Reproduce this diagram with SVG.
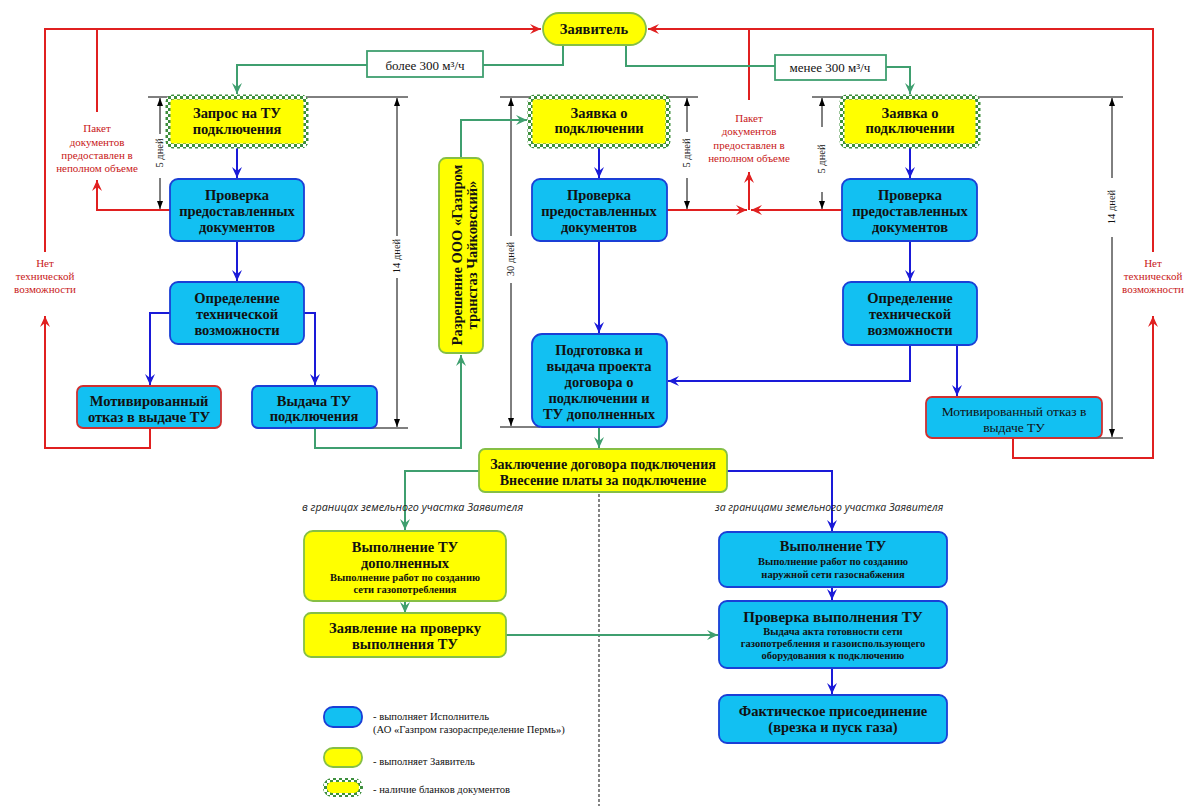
<svg xmlns="http://www.w3.org/2000/svg" width="1200" height="806" viewBox="0 0 1200 806">
<defs>
<pattern id="chk" width="6" height="6" patternUnits="userSpaceOnUse">
<rect width="6" height="6" fill="#ffffff"/>
<rect width="3" height="3" fill="#3d8f3d"/>
<rect x="3" y="3" width="3" height="3" fill="#3d8f3d"/>
</pattern>
<marker id="ab" markerWidth="12" markerHeight="12" refX="11" refY="6" orient="auto" markerUnits="userSpaceOnUse"><path d="M0,1 L11,6 L0,11 L4,6 z" fill="#1a1ad8"/></marker>
<marker id="ag" markerWidth="12" markerHeight="12" refX="11" refY="6" orient="auto" markerUnits="userSpaceOnUse"><path d="M0,1 L11,6 L0,11 L4,6 z" fill="#3f9f6f"/></marker>
<marker id="ar" markerWidth="12" markerHeight="12" refX="11" refY="6" orient="auto" markerUnits="userSpaceOnUse"><path d="M0,1 L11,6 L0,11 L4,6 z" fill="#e02020"/></marker>
<marker id="ak" markerWidth="9" markerHeight="8" refX="8" refY="4" orient="auto-start-reverse" markerUnits="userSpaceOnUse"><path d="M0,1 L8,4 L0,7 z" fill="#000"/></marker>
</defs>
<style>
.b{fill:#12c0f2;stroke:#1a3fd6;stroke-width:1.8}
.br{fill:#12c0f2;stroke:#d03030;stroke-width:1.8}
.y{fill:#ffff00;stroke:#86bf45;stroke-width:1.8}
.yc{fill:#ffff00;stroke:url(#chk);stroke-width:5}
.t{font-family:"Liberation Serif","Times New Roman",serif;font-weight:bold;font-size:14.5px;fill:#111;text-anchor:middle}
.ts{font-family:"Liberation Serif","Times New Roman",serif;font-weight:bold;font-size:10.5px;fill:#111;text-anchor:middle}
.tn{font-family:"Liberation Serif","Times New Roman",serif;font-size:13.5px;fill:#111;text-anchor:middle}
.rl{font-family:"Liberation Serif","Times New Roman",serif;font-size:11px;fill:#c81818;text-anchor:middle}
.dim{font-family:"Liberation Serif","Times New Roman",serif;font-size:10.5px;fill:#111;text-anchor:middle}
.lg{font-family:"Liberation Serif","Times New Roman",serif;font-size:10.6px;fill:#111}
.it{font-family:"Open Sans","DejaVu Sans",sans-serif;font-style:italic;font-size:10.8px;fill:#222}
.cr{fill:none;stroke:#e02020;stroke-width:2}
.cg{fill:none;stroke:#3f9f6f;stroke-width:2}
.cb{fill:none;stroke:#1a1ad8;stroke-width:2}
.dk{fill:none;stroke:#000;stroke-width:1}
</style>
<rect width="1200" height="806" fill="#ffffff"/>

<g id="dimensions">
<path class="dk" d="M148,97 H408 M365,428 H408 M500,97 H698 M500,427 H540 M812,97 H1123 M1090,438 H1123"/>
<path class="dk" d="M160,134 V98" marker-end="url(#ak)"/><path class="dk" d="M160,178 V209" marker-end="url(#ak)"/>
<text class="dim" transform="translate(163,153) rotate(-90)">5 дней</text>
<path class="dk" d="M397,236 V98" marker-end="url(#ak)"/><path class="dk" d="M397,278 V427" marker-end="url(#ak)"/>
<text class="dim" transform="translate(400,256) rotate(-90)">14 дней</text>
<path class="dk" d="M511,236 V98" marker-end="url(#ak)"/><path class="dk" d="M511,283 V426" marker-end="url(#ak)"/>
<text class="dim" transform="translate(514,259) rotate(-90)">30 дней</text>
<path class="dk" d="M687,132 V98" marker-end="url(#ak)"/><path class="dk" d="M687,178 V209" marker-end="url(#ak)"/>
<text class="dim" transform="translate(690,153) rotate(-90)">5 дней</text>
<path class="dk" d="M822,127 V98" marker-end="url(#ak)"/><path class="dk" d="M822,192 V209" marker-end="url(#ak)"/>
<text class="dim" transform="translate(825,159) rotate(-90)">5 дней</text>
<path class="dk" d="M1112,178 V98" marker-end="url(#ak)"/><path class="dk" d="M1112,237 V437" marker-end="url(#ak)"/>
<text class="dim" transform="translate(1115,207) rotate(-90)">14 дней</text>
<path d="M599,494 V806" fill="none" stroke="#333" stroke-width="1.2" stroke-dasharray="3,2"/>
</g>

<g id="connectors">
<path class="cr" d="M45,252 V29 H541" marker-end="url(#ar)"/>
<path class="cr" d="M97,29 V112"/>
<path class="cr" d="M170,210 H97 V180" marker-end="url(#ar)"/>
<path class="cr" d="M150,428 V448 H45 V316" marker-end="url(#ar)"/>
<path class="cr" d="M1153,252 V29 H648" marker-end="url(#ar)"/>
<path class="cr" d="M749,29 V100"/>
<path class="cr" d="M667,210 H747" marker-end="url(#ar)"/>
<path class="cr" d="M842,210 H751" marker-end="url(#ar)"/>
<path class="cr" d="M749,210 V172" marker-end="url(#ar)"/>
<path class="cr" d="M1013,438 V458 H1153 V316" marker-end="url(#ar)"/>

<path class="cg" d="M563,45 V65 H483"/>
<path class="cg" d="M367,65 H237 V94" marker-end="url(#ag)"/>
<path class="cg" d="M626,45 V66 H775"/>
<path class="cg" d="M886,67 H910 V94" marker-end="url(#ag)"/>
<path class="cg" d="M315,428 V448 H461 V355" marker-end="url(#ag)"/>
<path class="cg" d="M461,158 V120 H527" marker-end="url(#ag)"/>
<path class="cg" d="M599,427 V448" marker-end="url(#ag)"/>
<path class="cg" d="M479,471 H405 V530" marker-end="url(#ag)"/>
<path class="cg" d="M405,601 V613" marker-end="url(#ag)"/>
<path class="cg" d="M506,635 H718" marker-end="url(#ag)"/>

<path class="cb" d="M237,148 V178" marker-end="url(#ab)"/>
<path class="cb" d="M237,241 V281" marker-end="url(#ab)"/>
<path class="cb" d="M170,313 H150 V385" marker-end="url(#ab)"/>
<path class="cb" d="M304,313 H315 V385" marker-end="url(#ab)"/>
<path class="cb" d="M599,148 V178" marker-end="url(#ab)"/>
<path class="cb" d="M599,241 V333" marker-end="url(#ab)"/>
<path class="cb" d="M910,148 V178" marker-end="url(#ab)"/>
<path class="cb" d="M910,241 V281" marker-end="url(#ab)"/>
<path class="cb" d="M910,345 V381 H668" marker-end="url(#ab)"/>
<path class="cb" d="M957,345 V396" marker-end="url(#ab)"/>
<path class="cb" d="M727,471 H832 V531" marker-end="url(#ab)"/>
<path class="cb" d="M832,587 V600" marker-end="url(#ab)"/>
<path class="cb" d="M832,668 V694" marker-end="url(#ab)"/>
</g>

<g id="labels">
<text class="rl"><tspan x="97" y="132">Пакет</tspan><tspan x="97" y="146">документов</tspan><tspan x="97" y="159">предоставлен в</tspan><tspan x="97" y="172">неполном объеме</tspan></text>
<text class="rl"><tspan x="749" y="122">Пакет</tspan><tspan x="749" y="135">документов</tspan><tspan x="749" y="149">предоставлен в</tspan><tspan x="749" y="162">неполном объеме</tspan></text>
<text class="rl"><tspan x="45" y="267">Нет</tspan><tspan x="45" y="280">технической</tspan><tspan x="45" y="293">возможности</tspan></text>
<text class="rl"><tspan x="1153" y="267">Нет</tspan><tspan x="1153" y="280">технической</tspan><tspan x="1153" y="293">возможности</tspan></text>
<rect x="367" y="51" width="116" height="26" fill="#fff" stroke="#3f9f6f" stroke-width="1.8"/>
<text class="tn" x="425" y="70" style="font-size:13px">более 300 м³/ч</text>
<rect x="775" y="55" width="111" height="25" fill="#fff" stroke="#3f9f6f" stroke-width="1.8"/>
<text class="tn" x="830" y="72" style="font-size:13px">менее 300 м³/ч</text>
<text class="it" x="302" y="511">в границах земельного участка Заявителя</text>
<text class="it" x="715" y="511" style="font-size:10.5px">за границами земельного участка Заявителя</text>
</g>

<g id="n-zayavitel"><rect class="y" x="543" y="13" width="103" height="32" rx="16"/><text class="t" x="594" y="34">Заявитель</text></g>

<g id="n-zapros"><rect class="yc" x="168" y="97" width="138" height="49" rx="5"/><text class="t"><tspan x="237" y="118">Запрос на ТУ</tspan><tspan x="237" y="134">подключения</tspan></text></g>
<g id="n-prov1"><rect class="b" x="170" y="179" width="134" height="62" rx="8"/><text class="t"><tspan x="237" y="200">Проверка</tspan><tspan x="237" y="216">предоставленных</tspan><tspan x="237" y="232">документов</tspan></text></g>
<g id="n-opr1"><rect class="b" x="170" y="282" width="134" height="62" rx="8"/><text class="t"><tspan x="237" y="303">Определение</tspan><tspan x="237" y="319">технической</tspan><tspan x="237" y="335">возможности</tspan></text></g>
<g id="n-otkaz1"><rect class="br" x="77" y="386" width="144" height="42" rx="6"/><text class="t"><tspan x="149" y="406">Мотивированный</tspan><tspan x="149" y="422">отказ в выдаче ТУ</tspan></text></g>
<g id="n-vydacha"><rect class="b" x="252" y="386" width="125" height="42" rx="6"/><text class="t"><tspan x="314" y="406">Выдача ТУ</tspan><tspan x="314" y="421">подключения</tspan></text></g>

<g id="n-razresh"><rect class="y" x="439" y="158" width="44" height="195" rx="7"/><text class="t" transform="translate(461,255) rotate(-90)"><tspan x="0" y="1">Разрешение ООО «Газпром</tspan><tspan x="0" y="16">трансгаз Чайковский»</tspan></text></g>

<g id="n-zayavka2"><rect class="yc" x="530" y="97" width="138" height="49" rx="5"/><text class="t"><tspan x="599" y="118">Заявка о</tspan><tspan x="599" y="133">подключении</tspan></text></g>
<g id="n-prov2"><rect class="b" x="532" y="179" width="135" height="62" rx="8"/><text class="t"><tspan x="599" y="200">Проверка</tspan><tspan x="599" y="216">предоставленных</tspan><tspan x="599" y="232">документов</tspan></text></g>
<g id="n-podgot"><rect class="b" x="532" y="334" width="135" height="93" rx="10"/><text class="t"><tspan x="599" y="355">Подготовка и</tspan><tspan x="599" y="371">выдача проекта</tspan><tspan x="599" y="387">договора о</tspan><tspan x="599" y="403">подключении и</tspan><tspan x="599" y="419">ТУ дополненных</tspan></text></g>

<g id="n-zayavka3"><rect class="yc" x="842" y="97" width="136" height="49" rx="5"/><text class="t"><tspan x="910" y="118">Заявка о</tspan><tspan x="910" y="133">подключении</tspan></text></g>
<g id="n-prov3"><rect class="b" x="842" y="179" width="135" height="62" rx="8"/><text class="t"><tspan x="910" y="200">Проверка</tspan><tspan x="910" y="216">предоставленных</tspan><tspan x="910" y="232">документов</tspan></text></g>
<g id="n-opr3"><rect class="b" x="843" y="282" width="134" height="63" rx="8"/><text class="t"><tspan x="910" y="303">Определение</tspan><tspan x="910" y="319">технической</tspan><tspan x="910" y="335">возможности</tspan></text></g>
<g id="n-otkaz3"><rect class="br" x="926" y="397" width="176" height="41" rx="6"/><text class="tn"><tspan x="1014" y="416">Мотивированный отказ в</tspan><tspan x="1014" y="432">выдаче ТУ</tspan></text></g>

<g id="n-zakl"><rect class="y" x="479" y="449" width="248" height="43" rx="6"/><text class="t" style="font-size:14px"><tspan x="603" y="469">Заключение договора подключения</tspan><tspan x="603" y="485">Внесение платы за подключение</tspan></text></g>

<g id="n-vyp1"><rect class="y" x="304" y="531" width="202" height="70" rx="9"/><text class="t"><tspan x="405" y="552">Выполнение ТУ</tspan><tspan x="405" y="568">дополненных</tspan></text><text class="ts"><tspan x="405" y="581">Выполнение работ по созданию</tspan><tspan x="405" y="593">сети газопотребления</tspan></text></g>
<g id="n-zayavl"><rect class="y" x="304" y="613" width="202" height="44" rx="7"/><text class="t"><tspan x="405" y="633">Заявление на проверку</tspan><tspan x="405" y="649">выполнения ТУ</tspan></text></g>

<g id="n-vyp2"><rect class="b" x="719" y="532" width="228" height="55" rx="8"/><text class="t"><tspan x="833" y="551">Выполнение ТУ</tspan></text><text class="ts"><tspan x="833" y="565">Выполнение работ по созданию</tspan><tspan x="833" y="578">наружной сети газоснабжения</tspan></text></g>
<g id="n-prov4"><rect class="b" x="719" y="601" width="228" height="67" rx="8"/><text class="t" style="font-size:15px"><tspan x="833" y="622">Проверка выполнения ТУ</tspan></text><text class="ts"><tspan x="833" y="635">Выдача акта готовности сети</tspan><tspan x="833" y="647">газопотребления и газоиспользующего</tspan><tspan x="833" y="659">оборудования к подключению</tspan></text></g>
<g id="n-fakt"><rect class="b" x="719" y="695" width="228" height="48" rx="8"/><text class="t"><tspan x="833" y="716">Фактическое присоединение</tspan><tspan x="833" y="732">(врезка и пуск газа)</tspan></text></g>

<g id="legend">
<rect class="b" x="324" y="707" width="38" height="20" rx="9"/>
<text class="lg"><tspan x="373" y="720">- выполняет Исполнитель</tspan><tspan x="373" y="733">(АО «Газпром газораспределение Пермь»)</tspan></text>
<rect class="y" x="324" y="748" width="38" height="19" rx="9"/>
<text class="lg" x="373" y="765">- выполняет Заявитель</text>
<rect class="yc" x="325" y="780" width="36" height="15" rx="7" style="stroke-width:4"/>
<text class="lg" x="373" y="793">- наличие бланков документов</text>
</g>
</svg>
